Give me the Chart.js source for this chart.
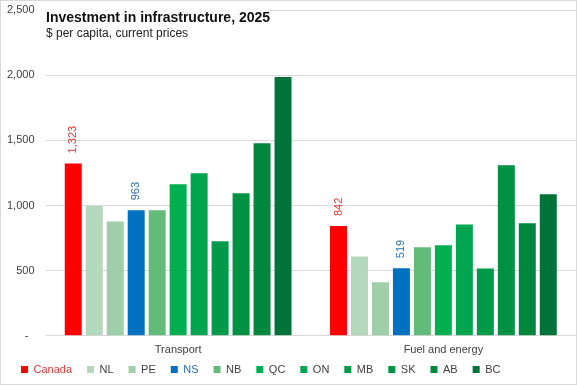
<!DOCTYPE html>
<html><head><meta charset="utf-8">
<script src="https://cdn.jsdelivr.net/npm/chart.js@4"></script>
<style>
html,body{margin:0;padding:0;background:#fff;}
#wrap{position:relative;width:577px;height:385px;box-sizing:border-box;border:1px solid #d9d9d9;}
canvas{display:block;}
</style></head><body>
<div id="wrap"><canvas id="c"></canvas></div>
<script>
const categories = ['Transport', 'Fuel and energy'];
const regions = ['Canada', 'NL', 'PE', 'NS', 'NB', 'QC', 'ON', 'MB', 'SK', 'AB', 'BC'];
const transport = [1323, 996, 878, 963, 963, 1163, 1247, 725, 1093, 1478, 1985];
const fuelEnergy = [842, 609, 410, 519, 679, 694, 855, 517, 1309, 863, 1086];
const yTicks = [0, 500, 1000, 1500, 2000, 2500];
const labelledRegions = ['Canada', 'NS'];

const barColors = ['#FF0000', '#B4D8BC', '#A0CEA9', '#0070C0', '#63BB7A', '#00B050', '#00A64F', '#009A48', '#009243', '#00873E', '#007338'];
const textColors = {Canada: '#E03A3A', NS: '#2E70B0'};
const FONT = "'Liberation Sans', Arial, sans-serif";
const NARROW = "'Liberation Sans Narrow', 'Liberation Sans', Arial, sans-serif";

const fmt = v => v === 0 ? '-' : v.toLocaleString('en-US');
const tickFmt = v => v === 0 ? '-  ' : v.toLocaleString('en-US');

const datasets = regions.map((r, i) => ({
  label: r,
  data: [transport[i], fuelEnergy[i]],
  backgroundColor: barColors[i],
  borderWidth: 0,
  barPercentage: 0.81,
  categoryPercentage: 0.87
}));

const titlePlugin = {
  id: 'titles',
  afterDraw(chart) {
    const ctx = chart.ctx;
    ctx.save();
    ctx.fillStyle = '#fff';
    ctx.fillRect(43, 4, 226, 38);
    ctx.fillStyle = '#111';
    ctx.textAlign = 'left';
    ctx.textBaseline = 'alphabetic';
    ctx.font = "bold 14px " + NARROW;
    ctx.fillText('Investment in infrastructure, 2025', 45, 21);
    ctx.font = "12px " + FONT;
    ctx.fillStyle = '#222';
    ctx.fillText('$ per capita, current prices', 45, 36);
    ctx.restore();
  }
};

const labelPlugin = {
  id: 'barLabels',
  afterDatasetsDraw(chart) {
    const ctx = chart.ctx;
    chart.data.datasets.forEach((ds, di) => {
      if (!labelledRegions.includes(ds.label)) return;
      const meta = chart.getDatasetMeta(di);
      meta.data.forEach((el, j) => {
        ctx.save();
        ctx.translate(el.x, el.y - 10);
        ctx.rotate(-Math.PI / 2);
        ctx.font = "11px " + FONT;
        ctx.fillStyle = textColors[ds.label];
        ctx.textAlign = 'left';
        ctx.textBaseline = 'middle';
        ctx.fillText(fmt(ds.data[j]), 0, 0);
        ctx.restore();
      });
    });
  }
};

const legendShift = {
  id: 'legendShift',
  afterLayout(chart) {
    const lg = chart.legend;
    if (lg) { lg.top -= 16; lg.bottom -= 16; }
  }
};

new Chart(document.getElementById('c'), {
  type: 'bar',
  data: { labels: categories, datasets },
  options: {
    responsive: true,
    maintainAspectRatio: false,
    animation: false,
    layout: { padding: { top: 0, left: 5, right: 0, bottom: -17 } },
    scales: {
      x: {
        grid: { display: false, drawTicks: false },
        border: { display: false },
        ticks: { color: '#404040', font: { family: FONT, size: 11 }, padding: 8 }
      },
      y: {
        min: 0, max: 2500,
        afterBuildTicks(axis) { axis.ticks = yTicks.map(v => ({ value: v })); },
        grid: { color: '#D9D9D9', drawTicks: false, lineWidth: 1 },
        border: { display: false },
        ticks: { color: '#404040', font: { family: FONT, size: 11 }, padding: 11, callback: v => tickFmt(v) },
        afterFit(axis) { axis.width -= 10; axis.paddingTop = 9; axis.paddingBottom = 0; }
      }
    },
    plugins: {
      tooltip: { enabled: false },
      legend: {
        position: 'bottom',
        align: 'start',
        labels: {
          boxWidth: 7, boxHeight: 7, padding: 15,
          font: { family: FONT, size: 11 },
          color: '#404040',
          generateLabels(chart) {
            return chart.data.datasets.map((ds, i) => ({
              text: ds.label,
              fillStyle: ds.backgroundColor,
              strokeStyle: ds.backgroundColor,
              lineWidth: 0,
              hidden: false,
              datasetIndex: i,
              fontColor: textColors[ds.label] || '#404040'
            }));
          }
        }
      }
    }
  },
  plugins: [titlePlugin, labelPlugin, legendShift]
});
</script>
</body></html>
